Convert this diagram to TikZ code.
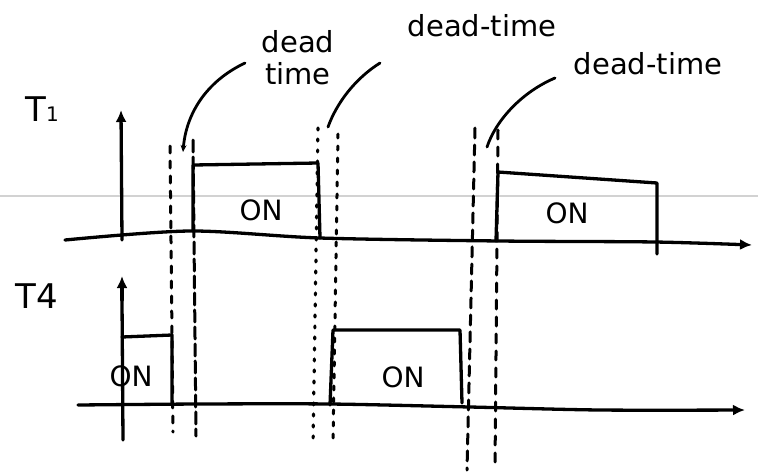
\documentclass[tikz,border=0pt]{standalone}
\usepackage{fontspec}
\setmainfont{DejaVu Sans}
\usetikzlibrary{arrows.meta}
\begin{document}
\begin{tikzpicture}[x=1pt,y=-1pt,
  ink/.style={line width=3.3pt,line cap=round,line join=round},
  guide/.style={line width=3pt,line cap=round,dash pattern=on 7pt off 8pt},
  dotguide/.style={line width=3.2pt,line cap=round,dash pattern=on 2pt off 9pt},
  lead/.style={line width=2.8pt,line cap=round,-{Stealth[length=7pt,width=6pt]}},
  axis/.style={ink,-{Latex[length=12pt,width=11pt]}},
  hand/.style={font=\fontsize{29}{32}\selectfont,inner sep=0pt,align=center},
  onlbl/.style={font=\fontsize{28}{28}\selectfont,inner sep=0pt},
  siglbl/.style={font=\fontsize{34}{34}\selectfont,inner sep=0pt}]
\useasboundingbox (0,0) rectangle (758,475);
\fill[white] (0,0) rectangle (758,475);

% faint ruling of the paper
\draw[gray!35,line width=1.6pt] (0,196) -- (758,196);

% signal names
\node[siglbl] (t1lbl) at (42,109) {T{\fontsize{20}{20}\selectfont 1}};
\node[siglbl] (t4lbl) at (37,296) {T4};

% time axes
\draw[ink] (123,440) -- (122,300);
\draw[axis] (122,300) -- (122,276);
\draw[axis] (122,240) -- (121,110);
\draw[axis] plot[smooth] coordinates {(65,240) (190,231) (320,238) (500,241) (655,242) (752,245)};
\draw[axis] plot[smooth] coordinates {(78,405) (200,404) (330,404) (470,407) (600,410) (745,410)};

% dead-time markers
\draw[guide] (170,146) -- (173,432);
\draw[guide,dash pattern=on 12pt off 5pt] (193,140) -- (196,436);
\draw[dotguide] (318,128) -- (313,446);
\draw[guide,dash pattern=on 4pt off 8pt] (338,134) -- (333,442);
\draw[guide,dash pattern=on 10pt off 7pt] (475,128) -- (467,470);
\draw[guide,dash pattern=on 9pt off 8pt] (498,130) -- (495,468);

% T1 gate pulses
\draw[ink] (193,231) -- (193,165) -- (318,163) -- (320,238);
\draw[ink] (496,241) -- (498,172) -- (657,183) -- (657,254);
\node[onlbl] (on1) at (261,210) {ON};
\node[onlbl] (on2) at (567,213) {ON};

% T4 gate pulses
\draw[ink] (122,337) -- (172,335) -- (172,405);
\draw[ink] (330,405) -- (333,330) -- (460,330) -- (462,403);
\node[onlbl] (on3) at (131,376) {ON};
\node[onlbl] (on4) at (403,377) {ON};

% dead-time annotations
\node[hand] (dt1) at (298,58) {dead\\time};
\node[hand] (dt2) at (482,26) {dead-time};
\node[hand] (dt3) at (648,64) {dead-time};
\coordinate (p1) at (183,152);
\coordinate (p2) at (328,127);
\coordinate (p3) at (487,147);
\draw[lead] (245,63) .. controls (205,82) and (186,115) .. (p1);
\draw[line width=2.8pt,line cap=round] (380,63) .. controls (356,78) and (337,102) .. (p2);
\draw[line width=2.8pt,line cap=round] (555,78) .. controls (522,92) and (496,120) .. (p3);
\end{tikzpicture}
\end{document}
